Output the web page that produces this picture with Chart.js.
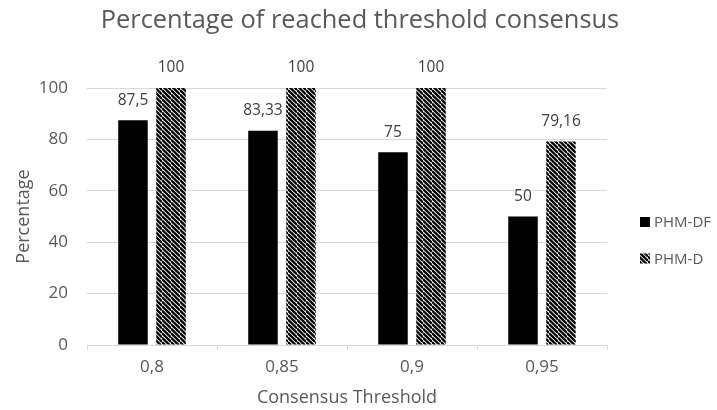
<!DOCTYPE html>
<html>
<head>
<meta charset="utf-8">
<script src="https://cdn.jsdelivr.net/npm/chart.js@4/dist/chart.umd.min.js"></script>
<style>
  html, body { margin: 0; padding: 0; background: #ffffff; }
  #wrap { width: 717px; height: 410px; }
</style>
</head>
<body>
<div id="wrap"><canvas id="chart" width="717" height="410"></canvas></div>
<script>
// Consensus thresholds on the x axis
const thresholds = ['0,8', '0,85', '0,9', '0,95'];
// Percentage of reached threshold consensus per method
const phmDF = [87.5, 83.33, 75, 50];
const phmD = [100, 100, 100, 79.16];
// Series names
const seriesNames = ['PHM-DF', 'PHM-D'];
// Y axis ticks
const yTicks = [0, 20, 40, 60, 80, 100];
const chartTitle = 'Percentage of reached threshold consensus';

const FONT = "'Open Sans', 'Liberation Sans', sans-serif";
const GREY = '#595959';

// Diagonal-stripe fill for the second series
function stripePattern() {
  const s = 9;
  const c = document.createElement('canvas');
  c.width = s; c.height = s;
  const g = c.getContext('2d');
  g.fillStyle = '#ffffff';
  g.fillRect(0, 0, s, s);
  g.strokeStyle = '#000000';
  g.lineWidth = 2.3;
  for (let k = -2 * s; k <= 2 * s; k += s / 2) {
    g.beginPath();
    g.moveTo(0, k);
    g.lineTo(s, k + s);
    g.stroke();
  }
  return g.createPattern(c, 'repeat');
}
const stripes = stripePattern();

const fmt = v => String(v).replace('.', ',');

// Centered title across the full canvas width
const topTitle = {
  id: 'topTitle',
  afterDraw(chart) {
    const ctx = chart.ctx;
    ctx.save();
    ctx.font = '25.4px ' + FONT;
    ctx.fillStyle = GREY;
    ctx.textAlign = 'center';
    ctx.textBaseline = 'alphabetic';
    ctx.fillText(chartTitle, 360, 28);
    ctx.restore();
  }
};

// Value labels above each bar
const valueLabels = {
  id: 'valueLabels',
  afterDatasetsDraw(chart) {
    const ctx = chart.ctx;
    ctx.save();
    ctx.font = '15.5px ' + FONT;
    ctx.fillStyle = '#404040';
    ctx.textAlign = 'center';
    ctx.textBaseline = 'middle';
    chart.data.datasets.forEach((ds, i) => {
      chart.getDatasetMeta(i).data.forEach((bar, j) => {
        ctx.fillText(fmt(ds.data[j]), bar.x, bar.y - 20);
      });
    });
    ctx.restore();
  }
};

// Legend at the right side
const sideLegend = {
  id: 'sideLegend',
  afterDraw(chart) {
    const ctx = chart.ctx;
    ctx.save();
    ctx.font = '15px ' + FONT;
    ctx.textBaseline = 'middle';
    ctx.textAlign = 'left';
    const x0 = 640, ys = [222, 258.5];
    chart.data.datasets.forEach((ds, i) => {
      const y = ys[i];
      ctx.fillStyle = ds.backgroundColor;
      ctx.fillRect(x0, y - 5, 10, 10);
      ctx.fillStyle = GREY;
      ctx.fillText(ds.label, x0 + 14, y + 1);
    });
    ctx.restore();
  }
};

new Chart(document.getElementById('chart'), {
  type: 'bar',
  data: {
    labels: thresholds,
    datasets: [
      { label: seriesNames[0], data: phmDF, backgroundColor: '#000000',
        categoryPercentage: 0.585, barPercentage: 0.776 },
      { label: seriesNames[1], data: phmD, backgroundColor: stripes,
        categoryPercentage: 0.585, barPercentage: 0.776 }
    ]
  },
  options: {
    responsive: false,
    animation: false,
    layout: { padding: { left: 0, right: 110, top: 88, bottom: 0 } },
    plugins: {
      legend: { display: false },
      tooltip: { enabled: false },
      title: { display: false }
    },
    scales: {
      x: {
        afterFit(scale) { scale.height = 65; },
        grid: { display: true, drawOnChartArea: false, color: '#d9d9d9', tickLength: 5, offset: true },
        border: { display: true, color: '#d9d9d9', width: 1 },
        ticks: { color: GREY, font: { family: FONT, size: 17 }, padding: 7 },
        title: { display: true, text: 'Consensus Threshold', color: GREY,
                 font: { family: FONT, size: 18 }, padding: { top: 0, bottom: 1 } }
      },
      y: {
        min: 0, max: 100,
        afterFit(scale) { scale.width = 87; },
        afterBuildTicks(scale) { scale.ticks = yTicks.map(v => ({ value: v })); },
        grid: { color: '#d9d9d9', drawTicks: false },
        border: { display: false },
        ticks: { color: GREY, font: { family: FONT, size: 17 }, padding: 19 },
        title: { display: true, text: 'Percentage', color: GREY,
                 font: { family: FONT, size: 18 }, padding: { top: 13, bottom: 0 } }
      }
    }
  },
  plugins: [valueLabels, sideLegend, topTitle]
});
</script>
</body>
</html>
